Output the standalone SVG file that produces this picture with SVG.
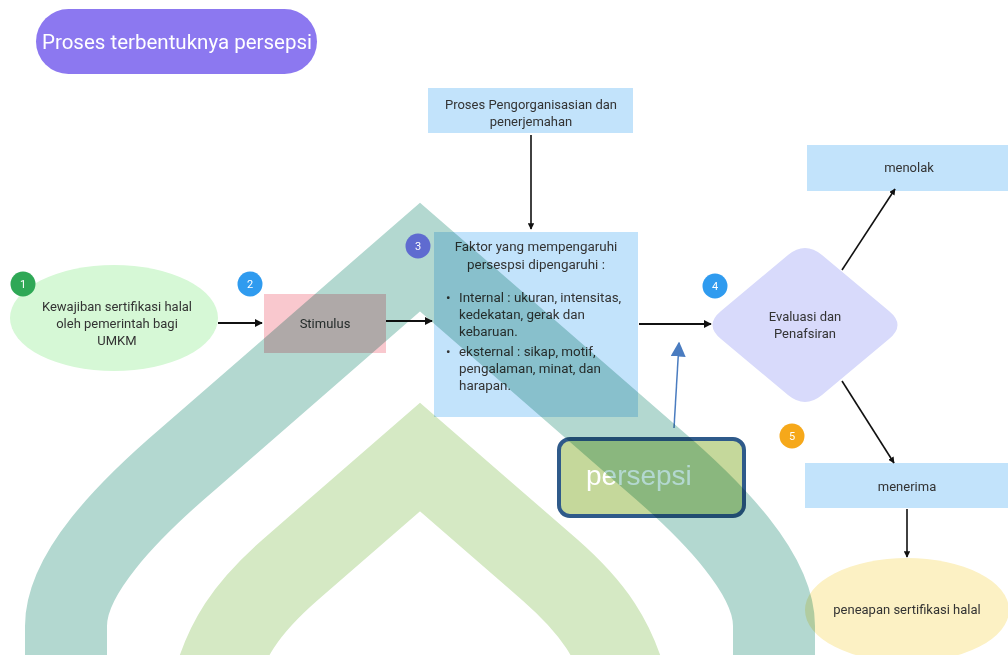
<svg xmlns="http://www.w3.org/2000/svg" width="1008" height="655" viewBox="0 0 1008 655">
<defs>
<style>
.t{font-family:Roboto,"Liberation Sans",sans-serif;fill:#333;font-size:13px}
.b{font-size:13.4px}
.c{text-anchor:middle}
.num{font-family:Roboto,"Liberation Sans",sans-serif;fill:#fff;font-size:11px;text-anchor:middle}
.box{fill:#c2e3fb}
.ln{stroke:#111;stroke-width:2;fill:none}
</style>
<marker id="ah" viewBox="0 0 10 10" refX="9" refY="5" markerWidth="4" markerHeight="4" orient="auto" markerUnits="strokeWidth">
<path d="M0,0 L10,5 L0,10 z" fill="#111"/>
</marker>
<marker id="ahb" viewBox="0 0 10 10" refX="9" refY="5" markerWidth="10" markerHeight="10" orient="auto" markerUnits="strokeWidth">
<path d="M0,0 L10,5 L0,10 z" fill="#4a7cc0"/>
</marker>
</defs>
<rect width="1008" height="655" fill="#fff"/>

<g id="title">
<rect x="36" y="9" width="281" height="65" rx="32.5" fill="#8c78f0"/>
<text x="177" y="49" font-family="Roboto,'Liberation Sans',sans-serif" font-size="20.5" fill="#fff" text-anchor="middle">Proses terbentuknya persepsi</text>
</g>

<g id="n1">
<ellipse cx="114" cy="318" rx="104" ry="53" fill="#d6f8d6"/>
<text class="t c" x="117" y="311">Kewajiban sertifikasi halal</text>
<text class="t c" x="117" y="328">oleh pemerintah bagi</text>
<text class="t c" x="117" y="345">UMKM</text>
<circle cx="23" cy="284" r="12.5" fill="#2fa856"/>
<text class="num" x="23" y="288">1</text>
</g>

<g id="n2">
<rect x="264" y="294" width="122" height="59" fill="#f9c8ce"/>
<text class="t c" x="325" y="328">Stimulus</text>
<circle cx="250" cy="284" r="12.5" fill="#2f9bef"/>
<text class="num" x="250" y="288">2</text>
</g>

<g id="top">
<rect class="box" x="428" y="88" width="205" height="45"/>
<text class="t c" x="531" y="109">Proses Pengorganisasian dan</text>
<text class="t c" x="531" y="126">penerjemahan</text>
</g>

<g id="n3">
<rect class="box" x="434" y="232" width="204" height="185"/>
<text class="t b c" x="536" y="251">Faktor yang mempengaruhi</text>
<text class="t b c" x="536" y="269">persespsi dipengaruhi :</text>
<text class="t b" x="446" y="302">•</text>
<text class="t b" x="459" y="302">Internal : ukuran, intensitas,</text>
<text class="t b" x="459" y="319">kedekatan, gerak dan</text>
<text class="t b" x="459" y="336">kebaruan.</text>
<text class="t b" x="446" y="356">•</text>
<text class="t b" x="459" y="356">eksternal : sikap, motif,</text>
<text class="t b" x="459" y="373">pengalaman, minat, dan</text>
<text class="t b" x="459" y="390">harapan.</text>
</g>

<g id="n4">
<path d="M721,311 L788,255 Q805,241 822,255 L889,311 Q906,325 889,339 L822,395 Q805,409 788,395 L721,339 Q704,325 721,311 Z" fill="#d8dafb"/>
<text class="t c" x="805" y="321">Evaluasi dan</text>
<text class="t c" x="805" y="338">Penafsiran</text>
<circle cx="715" cy="286" r="12.5" fill="#2f9bef"/>
<text class="num" x="715" y="290">4</text>
</g>

<g id="menolak">
<rect class="box" x="807" y="145" width="220" height="46"/>
<text class="t c" x="909" y="172">menolak</text>
</g>

<g id="menerima">
<rect class="box" x="805" y="463" width="220" height="45"/>
<text class="t c" x="907" y="491">menerima</text>
<circle cx="792" cy="436" r="12.5" fill="#f6a81a"/>
<text class="num" x="792" y="440">5</text>
</g>

<g id="hasil">
<ellipse cx="907" cy="610" rx="102" ry="52" fill="#fcf1c4"/>
<text class="t c" x="907" y="614">peneapan sertifikasi halal</text>
</g>

<g id="persepsi">
<rect x="559" y="439" width="185" height="77" rx="11" fill="#c5d89b" stroke="#2f5a8a" stroke-width="4"/>
<text x="586" y="485" font-family="'Liberation Sans',sans-serif" font-size="28" fill="#fff">persepsi</text>
</g>

<g id="connectors">
<line class="ln" x1="218" y1="323" x2="262" y2="323" marker-end="url(#ah)"/>
<line class="ln" x1="386" y1="321" x2="432" y2="321" marker-end="url(#ah)"/>
<line class="ln" x1="531" y1="135" x2="531" y2="229" marker-end="url(#ah)" style="stroke-width:1.6"/>
<line class="ln" x1="639" y1="324" x2="711" y2="324" marker-end="url(#ah)"/>
<line class="ln" x1="842" y1="270" x2="895" y2="189" marker-end="url(#ah)" style="stroke-width:1.6"/>
<line class="ln" x1="842" y1="381" x2="894" y2="463" marker-end="url(#ah)" style="stroke-width:1.6"/>
<line class="ln" x1="907" y1="509" x2="907" y2="557" marker-end="url(#ah)" style="stroke-width:1.6"/>
<line x1="674" y1="428" x2="679" y2="343" stroke="#4a7cc0" stroke-width="1.5" marker-end="url(#ahb)"/>
</g>

<g id="decor">
<path d="M66,700 L66,626 C66,574 126,512 188,459 L420,257 L652,459 C714,512 774,574 774,626 L774,700" fill="none" stroke="#b3d8d0" stroke-width="82" stroke-miterlimit="10" style="mix-blend-mode:multiply"/>
<path d="M210,700 C222,640 250,605 290,570 L420,457 L550,570 C590,605 618,640 630,700" fill="none" stroke="#d5e9c4" stroke-width="82" stroke-miterlimit="10" style="mix-blend-mode:multiply"/>
</g>

<g id="n3-badge">
<circle cx="418" cy="246" r="12.5" fill="#5f6bd0"/>
<text class="num" x="418" y="250">3</text>
</g>
</svg>
